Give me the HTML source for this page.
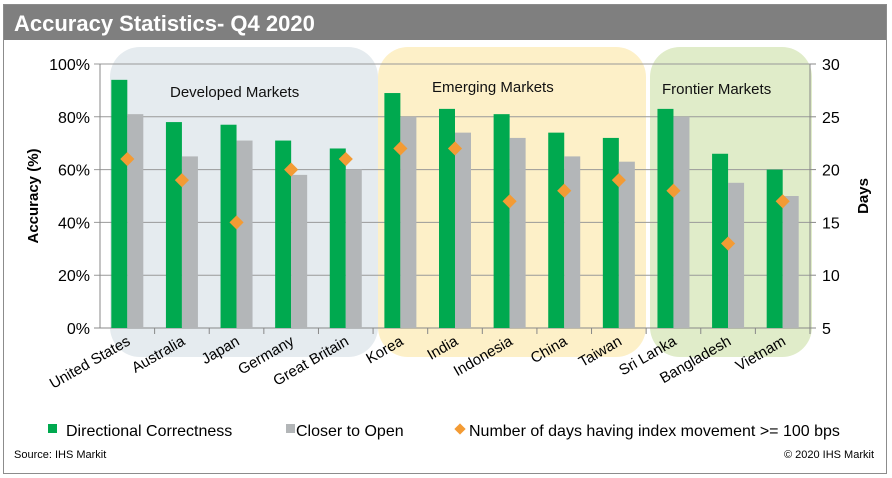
<!DOCTYPE html>
<html><head><meta charset="utf-8"><style>
body{margin:0;background:#fff;font-family:"Liberation Sans",Arial,sans-serif}
#wrap{position:relative;width:892px;height:478px}
</style></head><body>
<div id="wrap">
<svg id="chart" width="892" height="478" style="position:absolute;left:0;top:0">
<rect x="3.5" y="4.5" width="883" height="469" fill="#fff" stroke="#8c8c8c"/>
<rect x="4" y="5" width="882" height="35" fill="#7f7f7f"/>
<text x="14" y="31" font-size="22" font-weight="bold" fill="#fff">Accuracy Statistics- Q4 2020</text>
<rect x="110" y="47" width="268" height="310" rx="30" fill="#e5ebef"/>
<rect x="378" y="47" width="268" height="310" rx="30" fill="#fdf0c8"/>
<rect x="650" y="47" width="162" height="310" rx="30" fill="#e0ecc9"/>
<text x="170" y="97" font-size="15" fill="#111">Developed Markets</text>
<text x="432" y="92" font-size="15" fill="#111">Emerging Markets</text>
<text x="662" y="94" font-size="15" fill="#111">Frontier Markets</text>
<g id="grid"></g><g id="bars"></g><g id="axes"></g>
<text transform="translate(38,196) rotate(-90)" text-anchor="middle" font-size="15" font-weight="bold">Accuracy (%)</text>
<text transform="translate(868,196) rotate(-90)" text-anchor="middle" font-size="15" font-weight="bold">Days</text>
<rect x="48" y="424" width="9" height="9" fill="#00a94f"/>
<text x="66" y="436" font-size="16">Directional Correctness</text>
<rect x="286" y="424" width="9" height="9" fill="#b3b6b8"/>
<text x="296" y="436" font-size="16">Closer to Open</text>
<rect x="456" y="425" width="8" height="8" fill="#f39b34" transform="rotate(45 460 429)"/>
<text x="469" y="436" font-size="16">Number of days having index movement &gt;= 100 bps</text>
<text x="14" y="458" font-size="11">Source: IHS Markit</text>
<text x="874" y="458" font-size="11" text-anchor="end">© 2020 IHS Markit</text>
</svg>
</div>
<script>
const categories=["United States","Australia","Japan","Germany","Great Britain","Korea","India","Indonesia","China","Taiwan","Sri Lanka","Bangladesh","Vietnam"];
const directional=[94,78,77,71,68,89,83,81,74,72,83,66,60];
const closer=[81,65,71,58,60,80,74,72,65,63,80,55,50];
const days=[21,19,15,20,21,22,22,17,18,19,18,13,17];
const leftTicks=[0,20,40,60,80,100];
const rightTicks=[5,10,15,20,25,30];
const NS="http://www.w3.org/2000/svg";
const X0=100,X1=810,Y0=328,Y1=64;
const bw=(X1-X0)/categories.length;
const yL=v=>Y0-(v/100)*(Y0-Y1);
const yR=v=>Y0-((v-5)/25)*(Y0-Y1);
const xC=i=>X0+bw*(i+0.5);
function mk(tag,attrs,parent){const e=document.createElementNS(NS,tag);for(const k in attrs)e.setAttribute(k,attrs[k]);document.getElementById(parent).appendChild(e);return e;}
leftTicks.forEach(t=>{
 const l=mk('line',{x1:X0-6,x2:X1,y1:yL(t),y2:yL(t),stroke:t===0?'#888':'#999','stroke-width':1},'grid');
 
 
 const tx=mk('text',{x:X0-10,y:yL(t)+6,'text-anchor':'end','font-size':16},'axes');tx.textContent=t+'%';
 
 
});
rightTicks.forEach(t=>{
 const l=mk('line',{x1:X1,x2:X1+6,y1:yR(t),y2:yR(t),stroke:'#888'},'axes');
 
 
 const tx=mk('text',{x:X1+12,y:yR(t)+6,'font-size':16},'axes');tx.textContent=t;
 
 
});
const la=mk('line',{x1:X0,x2:X0,y1:Y1,y2:Y0,stroke:'#888'},'axes');


const ra=mk('line',{x1:X1,x2:X1,y1:Y1,y2:Y0,stroke:'#888'},'axes');


categories.forEach((c,i)=>{
 const cx=xC(i);
 const g=mk('rect',{x:cx-16,y:yL(directional[i]),width:16,height:Y0-yL(directional[i]),fill:'#00a94f'},'bars');
 
 
 const s=mk('rect',{x:cx,y:yL(closer[i]),width:16,height:Y0-yL(closer[i]),fill:'#b3b6b8'},'bars');
 
 
 const yy=yR(days[i]);
 const d=mk('rect',{x:cx-5,y:yy-5,width:10,height:10,fill:'#f39b34',transform:`rotate(45 ${cx} ${yy})`},'bars');
 
 
 const tk=mk('line',{x1:X0+bw*(i+1),x2:X0+bw*(i+1),y1:Y0,y2:Y0+6,stroke:'#888'},'axes');
 
 
 const t=mk('text',{x:cx+4,y:Y0+16,'text-anchor':'end','font-size':15,transform:`rotate(-30 ${cx+4} ${Y0+16})`},'axes');
 t.textContent=c;
 
 
});
</script>
</body></html>
